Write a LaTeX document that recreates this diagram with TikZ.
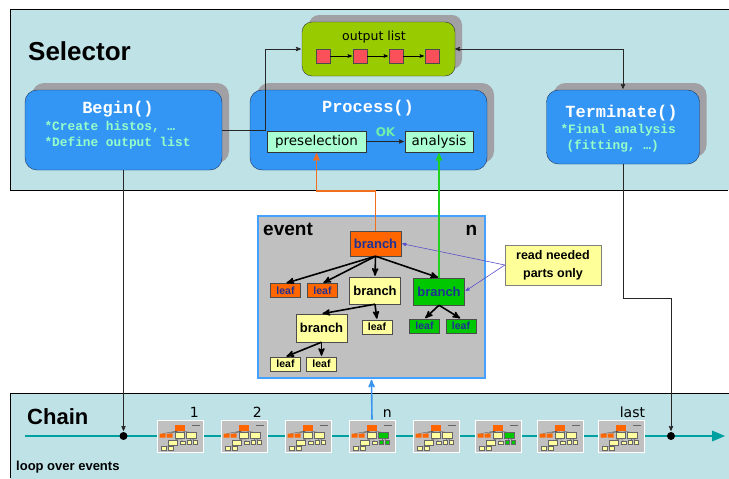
\documentclass[tikz,border=0pt]{standalone}
\usepackage{fontspec}
\setmainfont{Liberation Sans}
\newfontfamily\codefont{Liberation Mono}
\newfontfamily\vera{DejaVu Sans}
\usepackage{tikz}
\usetikzlibrary{arrows}
\usetikzlibrary{shadows,calc}

\definecolor{panelbg}{RGB}{190,226,230}
\definecolor{boxblue}{RGB}{51,150,245}
\definecolor{boxedge}{RGB}{30,50,90}
\definecolor{shadowgray}{RGB}{160,160,165}
\definecolor{listgreen}{RGB}{153,204,0}
\definecolor{listred}{RGB}{250,80,90}
\definecolor{mint}{RGB}{170,255,210}
\definecolor{codegreen}{RGB}{150,255,200}
\definecolor{okgreen}{RGB}{110,240,170}
\definecolor{evgray}{RGB}{192,192,192}
\definecolor{evedge}{RGB}{70,160,255}
\definecolor{brorange}{RGB}{255,102,0}
\definecolor{bryellow}{RGB}{255,255,160}
\definecolor{brgreen}{RGB}{0,200,0}
\definecolor{brtext}{RGB}{30,50,150}
\definecolor{callfill}{RGB}{255,255,153}
\definecolor{callline}{RGB}{90,80,200}
\definecolor{chainteal}{RGB}{0,160,160}
\definecolor{linkorange}{RGB}{240,110,30}
\definecolor{linkgreen}{RGB}{30,210,30}
\definecolor{linkblue}{RGB}{60,150,240}

% miniature of the event tree, drawn from its top left corner
\tikzset{
  pics/evthumb/.style={code={
    \draw[black!70, line width=0.3pt] (23,11) -- (6,14) (23,11) -- (13,14)
      (23,11) -- (23.5,13) (23,11) -- (35,13) (23.5,19) -- (16.5,21)
      (23.5,19) -- (26.5,22) (16.5,26) -- (7.5,27) (16.5,26) -- (14.5,27)
      (35,19) -- (33,21) (35,19) -- (39,21);
    \fill[brorange] (18,5) rectangle (28,11);
    \fill[black!60] (35,5.5) rectangle (43,6.5);
    \fill[brorange] (3,14) rectangle (9,18) (10,14) rectangle (16,18);
    \filldraw[fill=bryellow, draw=black!60, line width=0.3pt]
      (19,13) rectangle (28,19) (12,21) rectangle (21,26) (24,22) rectangle (29,25)
      (5,27) rectangle (10,31) (12,27) rectangle (17,31);
    \filldraw[fill=#1, draw=black!60, line width=0.3pt]
      (30,13) rectangle (40,19) (31,21) rectangle (35,25) (37,21) rectangle (41,25);
  }}
}

\begin{document}
\begin{tikzpicture}[>=stealth', shorten >=1pt, x=1pt, y=-1pt,
  shadowed/.style={drop shadow={shadow xshift=7pt,shadow yshift=7pt,fill=shadowgray,opacity=1}},
  func node/.style={rectangle, rounded corners=12pt, draw=boxedge, fill=boxblue, shadowed, inner sep=0pt},
  func title/.style={anchor=base, text=white, font=\codefont\bfseries\fontsize{17}{20}\selectfont},
  func text/.style={anchor=base west, text=codegreen, align=left, font=\codefont\bfseries\fontsize{12.8}{16}\selectfont},
  list node/.style={rectangle, rounded corners=10pt, draw=black!80, fill=listgreen, shadowed},
  item node/.style={rectangle, draw=black!70, fill=listred, minimum size=14pt, inner sep=0pt},
  step node/.style={rectangle, draw=black!80, fill=mint, inner sep=0pt, font=\vera\fontsize{13.5}{16}\selectfont},
  event node/.style={rectangle, draw=evedge, line width=1.5pt, fill=evgray},
  branch node/.style={rectangle, draw=black!70, inner sep=0pt, minimum width=51pt, minimum height=27pt, font=\bfseries\fontsize{13}{15}\selectfont},
  leaf node/.style={rectangle, draw=black!70, inner sep=0pt, minimum width=30pt, minimum height=14pt, font=\bfseries\fontsize{10.5}{12}\selectfont},
  note node/.style={rectangle, draw=black!50, fill=callfill, align=center, minimum width=96pt, minimum height=40pt, font=\bfseries\fontsize{12.5}{18}\selectfont},
  thumb node/.style={rectangle, draw=white, line width=0.8pt, fill=evgray, minimum width=46pt, minimum height=32pt, inner sep=0pt},
  chain label/.style={anchor=base, inner sep=0pt, font=\vera\fontsize{14}{16}\selectfont},
  dot node/.style={circle, fill=black, minimum size=8pt, inner sep=0pt},
  link/.style={->, line width=0.8pt, black!85},
  tree edge/.style={->, line width=1.6pt}]

\useasboundingbox[fill=white] (0,0) rectangle (729,479);

% panels
\fill[panelbg] (10,9) rectangle (729,190);
\draw[line width=0.8pt] (729,9) -- (10,9) -- (10,190) -- (729,190);
\fill[panelbg] (10,393) rectangle (729,479);
\draw[line width=0.8pt] (729,393) -- (10,393) -- (10,479);

\node[anchor=base west, inner sep=0pt, font=\bfseries\fontsize{26}{30}\selectfont] (sel) at (28,60) {Selector};
\node[anchor=base west, inner sep=0pt, font=\bfseries\fontsize{22}{26}\selectfont] (chain) at (27,424) {Chain};
\node[anchor=base west, inner sep=0pt, font=\bfseries\fontsize{13}{15}\selectfont] (loop) at (16,470) {loop over events};

% output list
\node[list node, minimum width=153pt, minimum height=54pt] (outlist) at (378.5,49) {};
\node[anchor=base, inner sep=0pt, font=\vera\fontsize{12.5}{15}\selectfont] (outlbl) at (374,40) {output list};
\foreach \i/\x in {1/323,2/360,3/396,4/432}
  \node[item node] (item\i) at (\x,56) {};
\foreach \i/\j in {1/2,2/3,3/4}
  \draw[->, line width=0.6pt] (item\i) -- (item\j);

% Begin()
\node[func node, minimum width=197pt, minimum height=80pt] (begin) at (123.5,130) {};
\node[func title] (begint) at (118,113) {Begin()};
\node[func text] (begintx) at (41,146) {*Create histos, …\\*Define output list};

% Process()
\node[func node, minimum width=237pt, minimum height=80pt] (proc) at (368.5,130) {};
\node[func title] (proct) at (368,112) {Process()};
\node[step node, minimum width=99pt, minimum height=21pt] (pre) at (316.5,141.5) {preselection};
\node[step node, minimum width=68pt, minimum height=21pt] (ana) at (439,141.5) {analysis};
\draw[link] (pre) -- node[above=1pt, text=okgreen, font=\vera\bfseries\fontsize{12}{14}\selectfont] (ok) {OK} (ana);

% Terminate()
\node[func node, minimum width=153pt, minimum height=74pt] (term) at (623,127) {};
\node[func title] (termt) at (621.5,117) {Terminate()};
\node[func text] (termtx) at (557,149) {*Final analysis\\\hspace{6pt}(fitting, …)};

% event
\node[event node, minimum width=227pt, minimum height=162pt] (ev) at (371.5,297) {};
\node[anchor=base west, inner sep=0pt, font=\bfseries\fontsize{19}{22}\selectfont] (evlbl) at (263,235) {event};
\node[anchor=base, inner sep=0pt, font=\bfseries\fontsize{19}{22}\selectfont] (evn) at (471.5,235) {n};

\node[branch node, fill=brorange, text=brtext, minimum height=25pt] (bo) at (375.5,243.5) {branch};
\node[leaf node, fill=brorange, text=brtext] (ol1) at (285.5,290.5) {leaf};
\node[leaf node, fill=brorange, text=brtext] (ol2) at (322.5,290.5) {leaf};
\node[branch node, fill=bryellow] (by1) at (375,290.5) {branch};
\node[branch node, fill=brgreen, text=brtext] (bg) at (439,291.5) {branch};
\node[branch node, fill=bryellow, minimum height=28pt] (by2) at (321.5,328) {branch};
\node[leaf node, fill=bryellow] (yl1) at (377,327) {leaf};
\node[leaf node, fill=brgreen, text=brtext] (gl1) at (424.5,326) {leaf};
\node[leaf node, fill=brgreen, text=brtext] (gl2) at (461,326) {leaf};
\node[leaf node, fill=bryellow] (yl2) at (285.5,364) {leaf};
\node[leaf node, fill=bryellow] (yl3) at (321.5,364) {leaf};

\path[tree edge]
  (bo.south) edge (ol1.north)
  (bo.south) edge (ol2.north)
  (bo.south) edge (by1.north)
  (bo.south) edge (bg.north)
  (by1.south) edge (by2.north)
  (by1.south) edge (yl1.north)
  (by2.south) edge (yl2.north)
  (by2.south) edge (yl3.north)
  (bg.south) edge (gl1.north)
  (bg.south) edge (gl2.north);

\node[note node] (read) at (553,265) {read needed\\parts only};
\draw[->, callline, line width=0.6pt] (read.west) -- (bo.east);
\draw[->, callline, line width=0.6pt] (read.west) -- (bg.east);

% chain of events
\coordinate (cs) at (25,436);
\coordinate (ce) at (726,436);
\draw[chainteal, line width=2pt, -triangle 45] (cs) -- (ce);
\foreach \i/\x/\c in {1/157/bryellow,2/221/bryellow,3/285/bryellow,4/349/brgreen,
                      5/413/bryellow,6/475/brgreen,7/537/bryellow,8/598/bryellow} {
  \node[thumb node] (t\i) at (\x+23,436) {};
  \pic at (t\i.north west) {evthumb=\c};
}
\node[chain label] (lbl1) at ([xshift=-9pt,yshift=2pt]t1.north east) {1};
\node[chain label] (lbl2) at ([xshift=-10pt,yshift=2pt]t2.north east) {2};
\node[chain label] (lbln) at ([xshift=-8pt,yshift=2pt]t4.north east) {n};
\node[chain label] (lbll) at ([xshift=-12pt,yshift=2pt]t8.north east) {last};
\node[dot node] (d1) at (123.5,436) {};
\node[dot node] (d2) at (671,436) {};

% connectors
\coordinate (bend1) at (265,49);
\draw[link] (begin.east) -| (bend1) -- (outlist.west);
\draw[link, <->] (outlist.east) -| (term.north);
\coordinate (bend2) at (671,298);
\draw[link] (term.south) |- (bend2) -- (d2.north);
\draw[link] (begin.south) -- (d1.north);
\coordinate (bend3) at (375.5,191);
\draw[->, linkorange, line width=1.6pt] (bo.north) -- (bend3) -| (pre.south);
\draw[->, linkgreen, line width=1.6pt] (bg.north) -- (ana.south);
\draw[->, linkblue, line width=1.6pt] (t4.north) -- (ev.south);
\end{tikzpicture}
\end{document}
